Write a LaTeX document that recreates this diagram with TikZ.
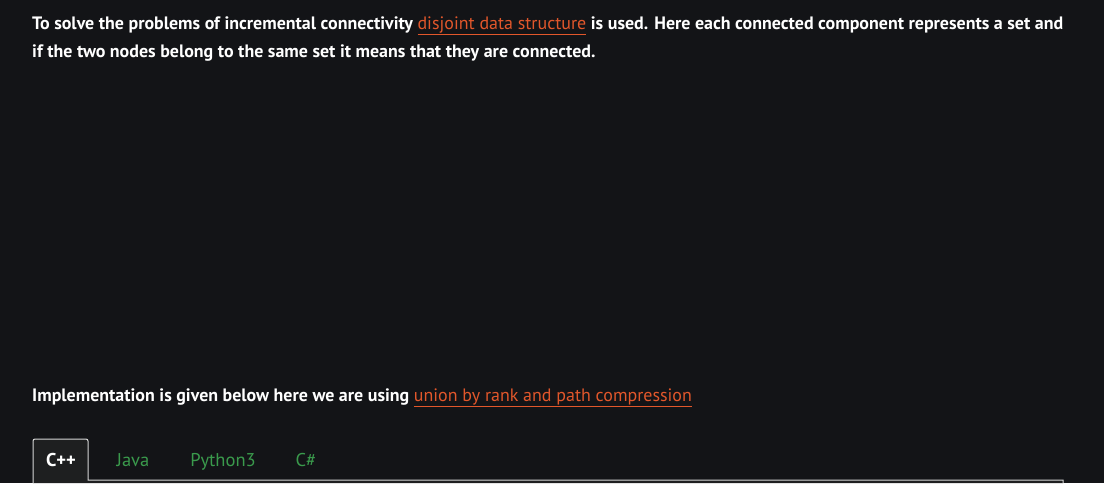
\documentclass[tikz,border=0pt]{standalone}
\usepackage{fontspec}
\setmainfont{PT Sans}
\usepackage{xcolor}
\definecolor{pagebg}{HTML}{131417}
\definecolor{tabbg}{HTML}{1E1F20}
\definecolor{linkorange}{HTML}{E2572B}
\definecolor{tabgreen}{HTML}{3A9A4C}
\definecolor{tabline}{HTML}{D6D6D6}
\newcommand{\pagelink}[1]{\textcolor{linkorange}{\mdseries\underline{#1}}}

\begin{document}
\begin{tikzpicture}[x=1pt, y=-1pt,
  bodytext/.style={anchor=base west, inner sep=0pt, text=white, font=\fontsize{17.95}{20}\selectfont\bfseries},
  tablabel/.style={anchor=base, inner sep=0pt, font=\fontsize{18.5}{20}\selectfont}]
					\fill[pagebg] (0,0) rectangle (1104,483);
					\useasboundingbox (0,0) rectangle (1104,483);
					\fill[tabbg] (33,483) -- (33,441) arc (180:270:2) -- (86,439) arc (270:360:2) -- (88,480) -- (1063,480) -- (1063,483) -- cycle;
					\draw[tabline, line width=1pt] (33,483) -- (33,441) arc (180:270:2) -- (86,439) arc (270:360:2) -- (88,480) -- (1063,480) -- (1063,483);
					\node[bodytext] (intro1) at (32,29) {To solve the problems of incremental connectivity \pagelink{disjoint data structure} is used. Here each connected component represents a set and};
					\node[bodytext] (intro2) at (32,57) {if the two nodes belong to the same set it means that they are connected.};
					\node[bodytext] (impl) at (32,401) {Implementation is given below here we are using \pagelink{union by rank and path compression}};
					\node[tablabel, text=white, font=\fontsize{18.5}{20}\selectfont\bfseries] (tabcpp) at (61,466) {C++};
					\node[tablabel, text=tabgreen] (tabjava) at (133,466) {Java};
					\node[tablabel, text=tabgreen] (tabpy) at (223,466) {Python3};
					\node[tablabel, text=tabgreen] (tabcs) at (306,466) {C\#};
				\end{tikzpicture}
\end{document}
